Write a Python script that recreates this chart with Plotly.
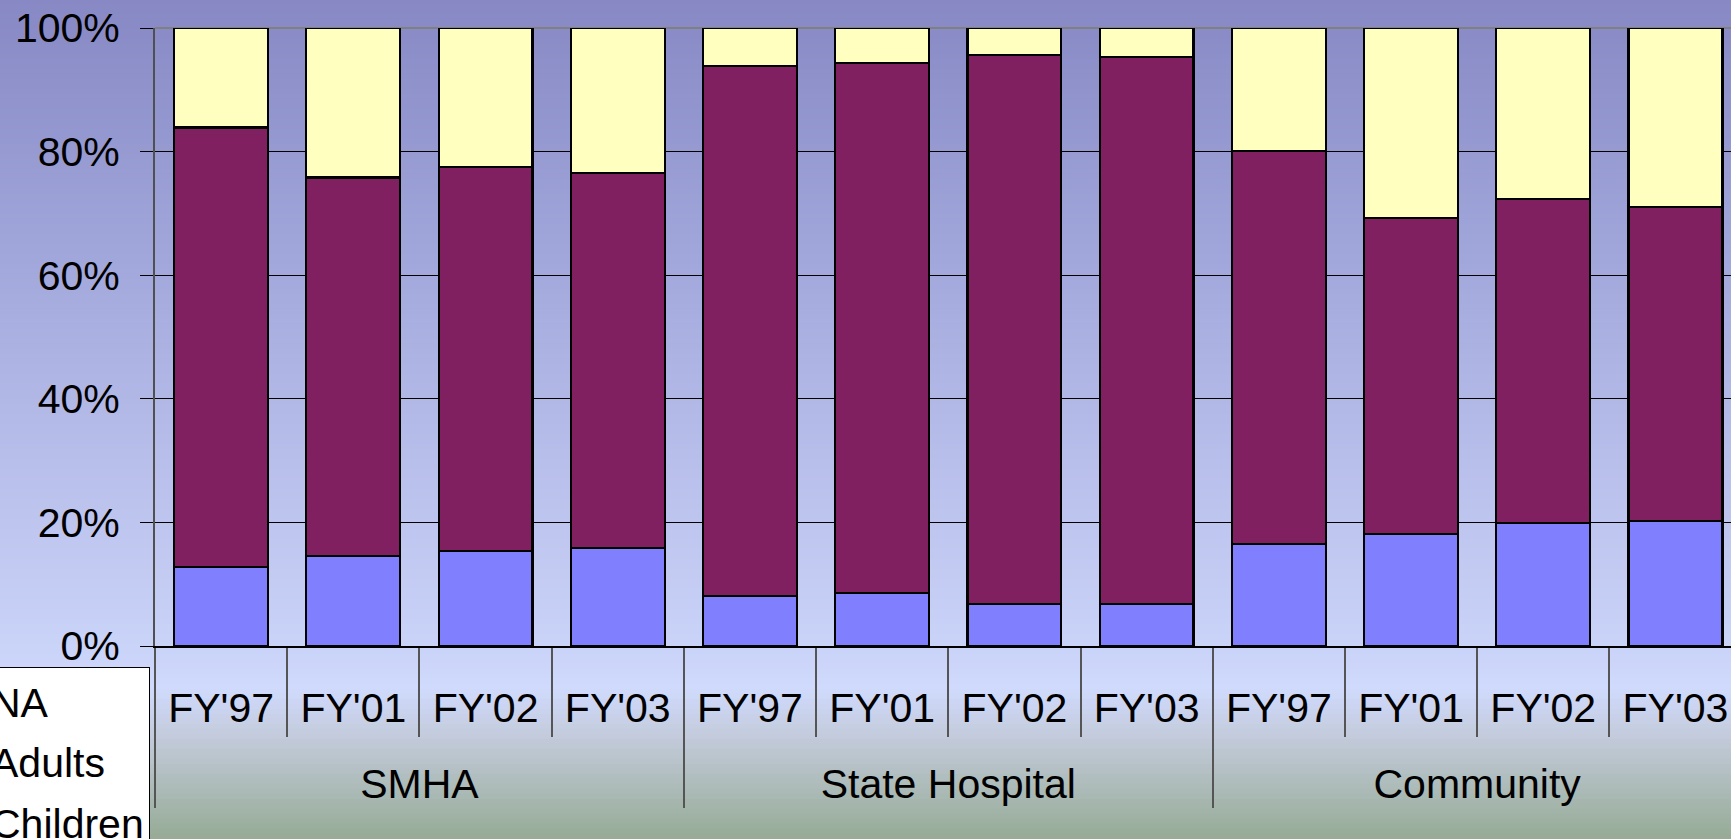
import plotly.graph_objects as go

# categories
groups = ["SMHA"] * 4 + ["State Hospital"] * 4 + ["Community"] * 4
years = ["FY'97", "FY'01", "FY'02", "FY'03"] * 3

# percent shares per bar
children = [12.8, 14.6, 15.4, 15.9, 8.1, 8.6, 6.8, 6.8, 16.5, 18.1, 19.9, 20.2]
adults = [71.1, 61.2, 62.1, 60.7, 85.8, 85.7, 88.8, 88.5, 63.6, 51.2, 52.4, 50.8]
na = [16.1, 24.2, 22.5, 23.4, 6.1, 5.7, 4.4, 4.7, 19.9, 30.7, 27.7, 29.0]

y_ticks = [0, 20, 40, 60, 80, 100]
grid_ticks = [20, 40, 60, 80]

FONT = "Liberation Sans, Arial, sans-serif"
W, H = 1731, 839
L, T, B = 155, 28, 193

# outer labels get an empty first line so they sit lower, as in the original
x = [["<br>" + g for g in groups], years]
series = [
    ("Children", children, "#8080ff", 3),
    ("Adults", adults, "#802060", 2),
    ("NA", na, "#ffffc0", 1),
]

fig = go.Figure()
for name, vals, color, rank in series:
    fig.add_trace(go.Bar(
        x=x, y=vals, name=name, legendgroup=name, legendrank=rank,
        marker=dict(color=color, line=dict(color="black", width=2.2)),
        width=0.71,
    ))

# background gradient (figure wide), drawn as thin stripes
stops = [
    (0, (135, 136, 196)),
    (250, (160, 166, 218)),
    (420, (180, 186, 231)),
    (650, (202, 211, 248)),
    (690, (208, 218, 252)),
    (740, (194, 202, 218)),
    (839, (150, 171, 150)),
]


def grad_color(py):
    for (p0, c0), (p1, c1) in zip(stops[:-1], stops[1:]):
        if p0 <= py <= p1:
            t = (py - p0) / (p1 - p0)
            return "rgb(%d,%d,%d)" % tuple(round(a + (b - a) * t) for a, b in zip(c0, c1))
    return "rgb(%d,%d,%d)" % stops[-1][1]


ph = H - T - B
shapes = []
step = 5
for py in range(0, H, step):
    shapes.append(dict(
        type="rect", xref="paper", yref="paper", layer="below",
        x0=-0.2, x1=1.1,
        y0=(H - B - py) / ph + 0.002, y1=(H - B - py - step) / ph - 0.002,
        fillcolor=grad_color(py + step / 2), line=dict(width=0),
    ))

# gray top border of the plot area, under the bars
shapes.append(dict(
    type="line", xref="paper", yref="paper", layer="below",
    x0=0, x1=1, y0=1, y1=1, line=dict(color="#808080", width=2),
))

fig.update_layout(
    width=W, height=H,
    margin=dict(l=L, r=0, t=T, b=B, autoexpand=False),
    paper_bgcolor="#ccd4f6",
    plot_bgcolor="rgba(0,0,0,0)",
    font=dict(family=FONT, size=41, color="black"),
    barmode="stack",
    bargap=0.29,
    shapes=shapes,
    showlegend=True,
    legend=dict(
        x=(150 - L) / (W - L), xanchor="right",
        y=(H - B - 667) / ph, yanchor="top",
        bgcolor="white", bordercolor="black", borderwidth=1,
        traceorder="grouped", tracegroupgap=4,
        font=dict(family=FONT, size=41, color="black"),
    ),
    xaxis=dict(
        type="multicategory",
        range=[-0.5, 11.42],
        showline=True, linecolor="black", linewidth=1.5,
        ticks="outside", ticklen=89, tickcolor="#555555", tickwidth=1.5,
        ticklabelstandoff=25,
        showdividers=True, dividercolor="#555555", dividerwidth=2,
        showgrid=False,
        tickfont=dict(family=FONT, size=41, color="black"),
    ),
    yaxis=dict(
        range=[0, 100],
        tickvals=y_ticks,
        ticktext=["%d%%" % v for v in y_ticks],
        showline=True, linecolor="#505050", linewidth=2,
        ticks="outside", ticklen=13, tickcolor="black", tickwidth=1,
        ticklabelstandoff=12,
        showgrid=False,
        zeroline=False,
        tickfont=dict(family=FONT, size=41, color="black"),
    ),
    # overlay axis only carrying the inner black gridlines
    yaxis2=dict(
        overlaying="y", range=[0, 100], tickvals=grid_ticks,
        showticklabels=False, showgrid=True, gridcolor="black", gridwidth=1,
        zeroline=False, showline=False,
    ),
)
fig.add_trace(go.Scatter(x=[None], y=[None], yaxis="y2", showlegend=False, hoverinfo="skip"))

fig.write_html(
    "out.html",
    config={"displayModeBar": False},
    post_script="document.body.style.margin='0';",
)
